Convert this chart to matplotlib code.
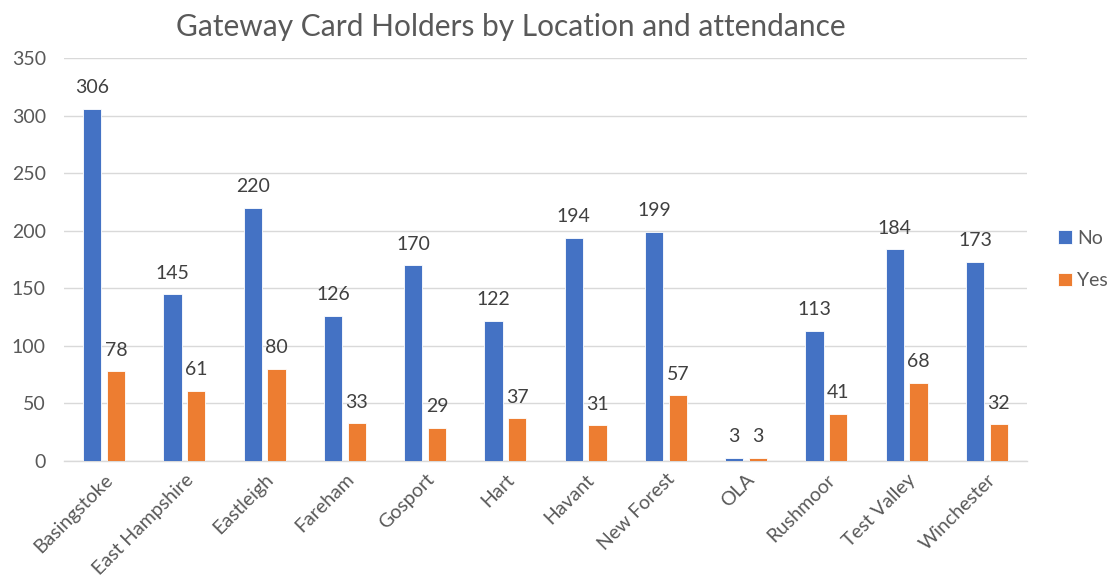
import numpy as np
import matplotlib
matplotlib.use("Agg")
import matplotlib.pyplot as plt

# data
locations = ["Basingstoke", "East Hampshire", "Eastleigh", "Fareham", "Gosport", "Hart",
             "Havant", "New Forest", "OLA", "Rushmoor", "Test Valley", "Winchester"]
no_counts = [306, 145, 220, 126, 170, 122, 194, 199, 3, 113, 184, 173]
yes_counts = [78, 61, 80, 33, 29, 37, 31, 57, 3, 41, 68, 32]

plt.rcParams['font.family'] = ['Lato', 'DejaVu Sans']
grey = '#595959'
blue = '#4472C4'
orange = '#ED7D31'

fig = plt.figure(figsize=(11.1, 5.8), dpi=100)
ax = fig.add_axes([64 / 1110, 1 - 461 / 580, (1027 - 64) / 1110, (461 - 58) / 580])

x = np.arange(len(locations))
w = 0.23
off = 0.148
b1 = ax.bar(x - off, no_counts, w, color=blue, edgecolor='white', linewidth=0.6, label='No', zorder=3)
b2 = ax.bar(x + off, yes_counts, w, color=orange, edgecolor='white', linewidth=0.6, label='Yes', zorder=3)

# value labels above bars
for bars, vals in [(b1, no_counts), (b2, yes_counts)]:
    for b, v in zip(bars, vals):
        ax.annotate(str(v), (b.get_x() + b.get_width() / 2, v), xytext=(0, 9),
                    textcoords='offset points', ha='center', va='bottom',
                    fontsize=14, color='#404040')

ax.set_xlim(-0.5, len(locations) - 0.5)
ax.set_ylim(0, 350)
ax.set_yticks(range(0, 351, 50))
ax.yaxis.grid(True, color='#d9d9d9', linewidth=1, zorder=0)
ax.set_axisbelow(True)
for s in ['top', 'right', 'left']:
    ax.spines[s].set_visible(False)
ax.spines['bottom'].set_color('#d9d9d9')
ax.spines['bottom'].set_linewidth(1)
ax.tick_params(axis='both', length=0, labelsize=14, colors=grey)
ax.tick_params(axis='y', pad=13)
ax.set_xticks(x)
ax.set_xticklabels(locations, rotation=45, ha='right', rotation_mode='anchor')
ax.tick_params(axis='x', pad=7)

fig.text(0.46, 1 - 27 / 580, "Gateway Card Holders by Location and attendance",
         ha='center', va='center', fontsize=21.5, color=grey)

leg = ax.legend(loc='center left', bbox_to_anchor=(1.02, 0.5), frameon=False,
                fontsize=14, handlelength=0.7, handleheight=0.7, handletextpad=0.3,
                labelspacing=1.3, borderaxespad=0.2)
for t in leg.get_texts():
    t.set_color(grey)

fig.savefig("out.png", dpi=100)
